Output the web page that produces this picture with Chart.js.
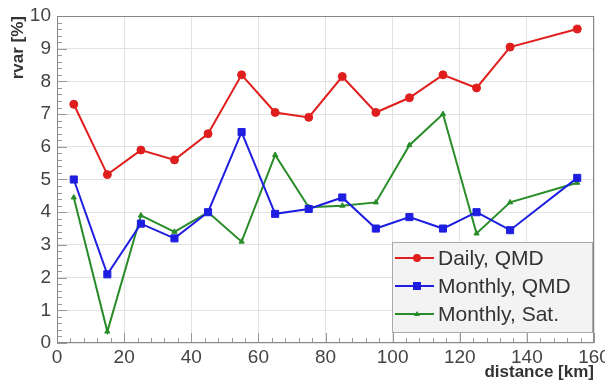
<!DOCTYPE html>
<html lang="en">
<head>
    <meta charset="UTF-8">
    <title>rvar vs distance</title>
    <script src="https://cdn.jsdelivr.net/npm/chart.js"></script>
    <style>
        html, body {
            margin: 0;
            padding: 0;
            background: #fff;
        }
        #wrap {
            width: 605px;
            height: 383px;
        }
    </style>
</head>
<body>
    <div id="wrap"><canvas id="rvarChart" width="605" height="383"></canvas></div>

    <script>
        // Werte
        const distances = [5, 15, 25, 35, 45, 55, 65, 75, 85, 95, 105, 115, 125, 135, 155];
        const dailyQMD = [7.3, 5.15, 5.9, 5.6, 6.4, 8.2, 7.05, 6.9, 8.15, 7.05, 7.5, 8.2, 7.8, 9.05, 9.6];
        const monthlyQMD = [5.0, 2.1, 3.65, 3.2, 4.0, 6.45, 3.95, 4.1, 4.45, 3.5, 3.85, 3.5, 4.0, 3.45, 5.05];
        const monthlySat = [4.45, 0.35, 3.9, 3.4, 4.0, 3.1, 5.75, 4.15, 4.2, 4.3, 6.05, 7.0, 3.35, 4.3, 4.9];
        const seriesLabels = ['Daily, QMD', 'Monthly, QMD', 'Monthly, Sat.'];

        const red = 'rgb(225, 30, 30)';
        const blue = 'rgb(30, 30, 225)';
        const green = 'rgb(40, 140, 40)';
        const fontFamily = '"Liberation Sans", Arial, sans-serif';

        function toPoints(values) {
            return distances.map((d, i) => ({ x: d, y: values[i] }));
        }

        // Legende im Plotbereich unten rechts, Rahmen und kleine Ticks
        const frameAndLegend = {
            id: 'frameAndLegend',
            afterDraw(chart) {
                const ctx = chart.ctx;
                const a = chart.chartArea;
                const xs = chart.scales.x;
                const ys = chart.scales.y;
                ctx.save();
                // kleine Ticks
                ctx.strokeStyle = '#999';
                ctx.lineWidth = 1;
                for (let v = 0; v <= 160; v += 4) {
                    const px = Math.round(xs.getPixelForValue(v)) + 0.5;
                    const len = v % 20 === 0 ? 10 : 5;
                    ctx.beginPath();
                    ctx.moveTo(px, a.bottom);
                    ctx.lineTo(px, a.bottom - len);
                    ctx.stroke();
                }
                for (let v = 0; v <= 10; v += 0.2) {
                    const py = Math.round(ys.getPixelForValue(v)) + 0.5;
                    const len = Math.abs(v - Math.round(v)) < 0.01 ? 10 : 5;
                    ctx.beginPath();
                    ctx.moveTo(a.left, py);
                    ctx.lineTo(a.left + len, py);
                    ctx.stroke();
                }
                // Rahmen
                ctx.strokeStyle = '#888';
                ctx.strokeRect(a.left + 0.5, a.top + 0.5, a.right - a.left - 1, a.bottom - a.top - 1);

                // Legende
                const boxW = 200, boxH = 90;
                const bx = a.right - boxW - 2, by = a.bottom - boxH - 11;
                ctx.fillStyle = '#f3f3f3';
                ctx.fillRect(bx, by, boxW, boxH);
                ctx.strokeStyle = '#aaa';
                ctx.strokeRect(bx + 0.5, by + 0.5, boxW, boxH);
                const rowH = 28;
                chart.data.datasets.forEach((ds, i) => {
                    const cy = by + 16 + i * rowH;
                    ctx.strokeStyle = ds.borderColor;
                    ctx.lineWidth = 2;
                    ctx.beginPath();
                    ctx.moveTo(bx + 3, cy);
                    ctx.lineTo(bx + 42, cy);
                    ctx.stroke();
                    ctx.fillStyle = ds.borderColor;
                    const mx = bx + 25;
                    if (ds.pointStyle === 'rect') {
                        ctx.fillRect(mx - 4, cy - 4, 8, 8);
                    } else if (ds.pointStyle === 'triangle') {
                        ctx.beginPath();
                        ctx.moveTo(mx, cy - 3);
                        ctx.lineTo(mx + 3, cy + 2);
                        ctx.lineTo(mx - 3, cy + 2);
                        ctx.fill();
                    } else {
                        ctx.beginPath();
                        ctx.arc(mx, cy, 4, 0, Math.PI * 2);
                        ctx.fill();
                    }
                    ctx.fillStyle = '#333';
                    ctx.font = '21px ' + fontFamily;
                    ctx.textBaseline = 'middle';
                    ctx.fillText(ds.label, bx + 46, cy + 1);
                });
                ctx.restore();
            }
        };

        function makeDataset(label, values, color, style, radius) {
            return {
                label: label,
                data: toPoints(values),
                borderColor: color,
                backgroundColor: color,
                borderWidth: 2,
                pointStyle: style,
                pointRadius: radius,
                pointBackgroundColor: color,
                pointBorderColor: color,
                pointBorderWidth: 1,
                tension: 0
            };
        }

        const ctx = document.getElementById('rvarChart').getContext('2d');
        new Chart(ctx, {
            type: 'line',
            data: {
                datasets: [
                    makeDataset(seriesLabels[0], dailyQMD, red, 'circle', 4),
                    makeDataset(seriesLabels[1], monthlyQMD, blue, 'rect', 5),
                    makeDataset(seriesLabels[2], monthlySat, green, 'triangle', 3)
                ]
            },
            plugins: [frameAndLegend],
            options: {
                responsive: false,
                animation: false,
                layout: { padding: { top: 16, right: 11, left: 0, bottom: 0 } },
                plugins: {
                    legend: { display: false },
                    tooltip: { enabled: false }
                },
                scales: {
                    x: {
                        type: 'linear',
                        min: 0,
                        max: 160,
                        border: { display: false },
                        grid: { color: '#e2e2e2', drawTicks: false },
                        ticks: {
                            stepSize: 20,
                            padding: 3,
                            maxRotation: 0,
                            color: '#444',
                            font: { family: fontFamily, size: 19 }
                        },
                        title: {
                            display: true,
                            text: 'distance [km]',
                            align: 'end',
                            color: '#333',
                            padding: { top: -2, bottom: 0 },
                            font: { family: fontFamily, size: 17, weight: 'bold' }
                        },
                        afterFit(scale) {
                            scale.height = 40;
                            scale.paddingLeft = 0;
                            scale.paddingRight = 0;
                        }
                    },
                    y: {
                        min: 0,
                        max: 10,
                        border: { display: false },
                        grid: { color: '#e2e2e2', drawTicks: false },
                        ticks: {
                            stepSize: 1,
                            padding: 6,
                            color: '#444',
                            font: { family: fontFamily, size: 19 }
                        },
                        title: {
                            display: true,
                            text: 'rvar [%]',
                            align: 'end',
                            color: '#333',
                            padding: { top: 8, bottom: 0 },
                            font: { family: fontFamily, size: 17, weight: 'bold' }
                        },
                        afterFit(scale) {
                            scale.width = 57;
                            scale.paddingTop = 0;
                            scale.paddingBottom = 0;
                        }
                    }
                }
            }
        });
    </script>
</body>
</html>
